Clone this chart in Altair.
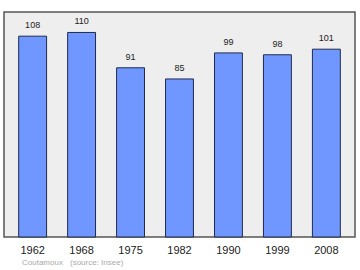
import altair as alt
import pandas as pd

years = ["1962", "1968", "1975", "1982", "1990", "1999", "2008"]
population = [108, 110, 91, 85, 99, 98, 101]
commune = "Coutamoux"
source_note = "(source: Insee)"

df = pd.DataFrame({"year": years, "pop": population})

FONT = "Liberation Sans"

x = alt.X("year:N", sort=years, title=None,
          scale=alt.Scale(paddingInner=0.43, paddingOuter=0.3),
          axis=alt.Axis(labelAngle=0, ticks=False, domain=False, labelFontSize=11,
                        labelColor="#222222", labelFont=FONT, labelPadding=7))
y = alt.Y("pop:Q", scale=alt.Scale(domain=[0, 121], nice=False), axis=None)

base = alt.Chart(df)
bars = base.mark_bar(color="#7097ff", stroke="#1f2b4d", strokeWidth=1).encode(x=x, y=y)
labels = base.mark_text(baseline="bottom", dy=-6, fontSize=9, color="#222222",
                        font=FONT).encode(x=x, y=y, text="pop:Q")
src_df = pd.DataFrame({"t": [commune, source_note], "px": [18, 66]})
source = alt.Chart(src_df).mark_text(
    align="left", baseline="middle", fontSize=8, color="#aaaaaa", font=FONT
).encode(x=alt.X("px:Q", scale=None), y=alt.value(251), text="t:N")

chart = alt.layer(bars, labels, source).properties(
    width=351, height=225,
    autosize=alt.AutoSizeParams(type="none"),
    padding={"left": 4, "top": 12, "right": 5, "bottom": 33},
    background="white",
).configure_view(fill="#eeeeee", stroke="#555555", strokeWidth=1.5)

chart.save("out.html", embed_options={"renderer": "svg", "actions": False})
